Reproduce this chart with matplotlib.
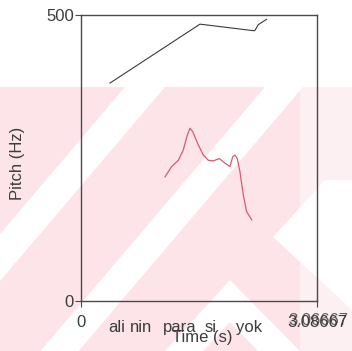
import matplotlib
matplotlib.use("Agg")
import matplotlib.pyplot as plt
from matplotlib.patches import Polygon
from matplotlib.transforms import blended_transform_factory, offset_copy

plt.rcParams['font.family'] = ['Liberation Sans', 'DejaVu Sans']

# upper contour (black)
upper_t = [0.379, 1.556, 2.261, 2.275, 2.318, 2.375, 2.427]
upper_hz = [381, 484, 472.5, 473, 483, 488, 492.5]

# pitch contour (red)
pitch_t = [1.099, 1.186, 1.273, 1.338, 1.390, 1.426, 1.461, 1.534, 1.600, 1.665,
           1.730, 1.809, 1.883, 1.949, 1.984, 2.014, 2.044, 2.079, 2.123, 2.167, 2.233]
pitch_hz = [217, 235, 246, 264, 290, 302, 296, 273, 255, 246,
            245, 249, 241, 235, 252, 255, 249, 226, 185, 156, 142]

words = ['ali', 'nin', 'para', 'si', 'yok']
word_t = [0.47, 0.785, 1.295, 1.694, 2.204]

t_end = 3.08667
y_max = 500

text_col = '#3c3c3c'
pink = '#fce4e9'
fs = 12
fig = plt.figure(figsize=(3.52, 3.51), dpi=100)

# watermark behind the chart (pixel coords)
bg = fig.add_axes([0, 0, 1, 1], zorder=-1)
bg.set_xlim(0, 352)
bg.set_ylim(351, 0)
bg.axis('off')
bg.add_patch(Polygon([(0, 87), (352, 87), (352, 351), (0, 351)], color=pink, lw=0))
bg.add_patch(Polygon([(300, 87), (352, 87), (352, 351), (300, 351)], color='#fdf0f2', lw=0))
k = 0.85
for x0, w in [(125, 40), (265, 38)]:
    bg.add_patch(Polygon([(x0, 87), (x0 + w, 87), (x0 + w - k * 264, 351), (x0 - k * 264, 351)],
                         color='white', lw=0))
bg.add_patch(Polygon([(273, 237), (325, 180), (352, 180), (352, 310)], color='white', lw=0))
bg.add_patch(Polygon([(230, 280), (165, 351), (300, 351)], color='white', lw=0))
bg.add_patch(Polygon([(230, 322), (203, 351), (258, 351)], color=pink, lw=0))

ax = fig.add_axes([81 / 352, 1 - 301 / 351, 236 / 352, 286 / 351])
ax.set_facecolor('none')
ax.plot(upper_t, upper_hz, color='#3a3a3a', lw=0.8)
ax.plot(pitch_t, pitch_hz, color='#d95a72', lw=0.9)

ax.set_xlim(0, t_end)
ax.set_ylim(0, y_max)
for s in ax.spines.values():
    s.set_color('#4a4a4a')
    s.set_linewidth(1.0)

ax.set_yticks([0, y_max])
ax.set_yticklabels(['0', '500'])
ax.set_xticks([0, t_end])
ax.set_xticklabels(['0', '3.08667'])
ax.tick_params(axis='y', direction='out', length=4, width=0.8, color='#4a4a4a',
               pad=1, labelsize=fs, labelcolor=text_col)
ax.tick_params(axis='x', direction='out', length=4, width=0.8, color='#4a4a4a',
               pad=6, labelsize=fs, labelcolor=text_col)

# the doubled right-hand time label
ax.text(t_end, -0.0415, '3.06667', fontsize=fs, color=text_col, alpha=0.8,
        ha='center', va='top',
        transform=offset_copy(blended_transform_factory(ax.transData, ax.transAxes),
                              fig=fig, x=1.2, y=0, units='dots'))

trans = blended_transform_factory(ax.transData, ax.transAxes)
for w, t in zip(words, word_t):
    ax.text(t, -0.11, w, fontsize=fs, color=text_col, ha='center', va='baseline',
            transform=trans)

ax.set_xlabel('Time (s)', fontsize=fs, color=text_col)
ax.xaxis.set_label_coords(0.513, -0.1)
ax.set_ylabel('Pitch (Hz)', fontsize=fs, color=text_col)
ax.yaxis.set_label_coords(-0.237, 0.482)

fig.savefig('out.png', dpi=100)
